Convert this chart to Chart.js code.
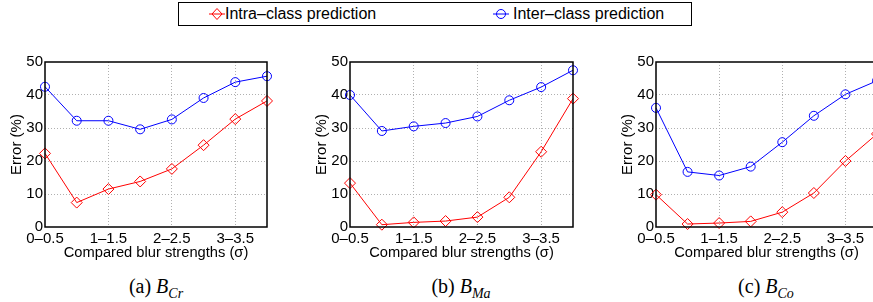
<!DOCTYPE html>
<html>
<head>
<meta charset="utf-8">
<script src="https://cdn.jsdelivr.net/npm/chart.js@4.4.1/dist/chart.umd.min.js"></script>
<style>
  html, body { margin: 0; padding: 0; background: #fff; overflow: hidden; }
  body { width: 873px; height: 302px; position: relative; font-family: "Liberation Sans", Arial, sans-serif; }
  .plot { position: absolute; top: 45px; }
  .legend {
    position: absolute; left: 178px; top: 2px; width: 512px; height: 22px;
    border: 1px solid #000; font-size: 16px; color: #000;
  }
  .legend .item { position: absolute; top: 0; height: 22px; line-height: 22px; }
  .legend svg { position: absolute; top: 4px; }
  .caption {
    position: absolute; top: 275px; width: 160px; text-align: center;
    font-family: "Liberation Serif", "DejaVu Serif", serif; font-size: 20px; color: #000;
  }
  .caption sub { font-size: 14px; font-style: italic; vertical-align: -5px; line-height: 0; }
</style>
</head>
<body>

<div class="legend">
  <svg width="20" height="14" style="left:28px"><line x1="2" y1="7" x2="18" y2="7" stroke="#ff0000" stroke-width="1"/><polygon points="10,1.5 15,7 10,12.5 5,7" fill="none" stroke="#ff0000" stroke-width="1"/></svg>
  <span class="item" style="left:46px">Intra–class prediction</span>
  <svg width="20" height="14" style="left:312px"><line x1="2" y1="7" x2="18" y2="7" stroke="#0000ff" stroke-width="1"/><circle cx="10" cy="7" r="4.5" fill="none" stroke="#0000ff" stroke-width="1"/></svg>
  <span class="item" style="left:334px">Inter–class prediction</span>
</div>

<canvas id="chartCr" class="plot"></canvas>
<canvas id="chartMa" class="plot"></canvas>
<canvas id="chartCo" class="plot"></canvas>

<div class="caption" style="left:76px">(a) <i>B</i><sub>Cr</sub></div>
<div class="caption" style="left:381px">(b) <i>B</i><sub>Ma</sub></div>
<div class="caption" style="left:686px">(c) <i>B</i><sub>Co</sub></div>

<script>
const categories = ["0–0.5", "0.5–1", "1–1.5", "1.5–2", "2–2.5", "2.5–3", "3–3.5", "3.5–4"];
const yTicks = [0, 10, 20, 30, 40, 50];

const intraCr = [22.3, 7.4, 11.5, 13.8, 17.6, 24.8, 32.7, 38.2];
const interCr = [42.5, 32.2, 32.2, 29.6, 32.6, 39.1, 43.9, 45.7];

const intraMa = [13.3, 0.7, 1.4, 1.8, 3.0, 9.0, 22.8, 38.9];
const interMa = [40.0, 29.1, 30.5, 31.5, 33.5, 38.4, 42.4, 47.5];

const intraCo = [9.8, 0.9, 1.2, 1.7, 4.5, 10.3, 20.0, 28.2];
const interCo = [36.1, 16.7, 15.6, 18.3, 25.7, 33.7, 40.2, 44.3];

const RED = "#ff0000";
const BLUE = "#0000ff";
const FONT = "'Liberation Sans', Arial, sans-serif";

// black frame round the plot area
const boxPlugin = {
  id: "box",
  afterDatasetsDraw(chart) {
    const a = chart.chartArea;
    const ctx = chart.ctx;
    ctx.save();
    ctx.strokeStyle = "#000";
    ctx.lineWidth = 1.5;
    ctx.strokeRect(a.left, a.top, a.right - a.left, a.bottom - a.top);
    ctx.restore();
  },
};

function makeChart(id, left, plotWidth, intra, inter) {
  const canvas = document.getElementById(id);
  const yAxisW = 37;
  canvas.width = yAxisW + plotWidth + 15;
  canvas.height = 217;
  canvas.style.left = left - yAxisW + "px";

  return new Chart(canvas.getContext("2d"), {
    type: "line",
    data: {
      labels: categories,
      datasets: [
        {
          label: "Intra–class prediction",
          data: intra,
          borderColor: RED,
          backgroundColor: "rgba(0,0,0,0)",
          borderWidth: 1,
          pointStyle: "rectRot",
          pointRadius: 5.5,
          pointBorderWidth: 1,
          pointBorderColor: RED,
          pointBackgroundColor: "rgba(0,0,0,0)",
          tension: 0,
          clip: false,
        },
        {
          label: "Inter–class prediction",
          data: inter,
          borderColor: BLUE,
          backgroundColor: "rgba(0,0,0,0)",
          borderWidth: 1,
          pointStyle: "circle",
          pointRadius: 4.5,
          pointBorderWidth: 1,
          pointBorderColor: BLUE,
          pointBackgroundColor: "rgba(0,0,0,0)",
          tension: 0,
          clip: false,
        },
      ],
    },
    options: {
      responsive: false,
      animation: false,
      devicePixelRatio: 1,
      layout: { padding: { top: 17, right: 15, left: 0, bottom: 0 } },
      plugins: { legend: { display: false }, tooltip: { enabled: false } },
      scales: {
        x: {
          type: "category",
          offset: false,
          afterFit(scale) { scale.height = 35; },
          grid: {
            drawTicks: false,
            color: (c) => (c.index > 0 && c.index % 2 === 0 ? "#b0b0b0" : "rgba(0,0,0,0)"),
          },
          border: { display: false, dash: [1, 2] },
          ticks: {
            autoSkip: false,
            maxRotation: 0,
            padding: 3,
            color: "#000",
            font: { family: FONT, size: 15 },
            callback: (v, i) => (i % 2 === 0 ? categories[i] : ""),
          },
          title: {
            display: true,
            text: "Compared blur strengths (σ)",
            color: "#000",
            padding: 0,
            font: { family: FONT, size: 14.7 },
          },
        },
        y: {
          min: yTicks[0],
          max: yTicks[yTicks.length - 1],
          afterFit(scale) { scale.width = yAxisW; },
          afterBuildTicks(scale) { scale.ticks = yTicks.map((v) => ({ value: v })); },
          grid: {
            drawTicks: false,
            color: (c) => (c.tick && c.tick.value > 0 && c.tick.value < 50 ? "#b0b0b0" : "rgba(0,0,0,0)"),
          },
          border: { display: false, dash: [1, 2] },
          ticks: {
            padding: 2,
            color: "#000",
            font: { family: FONT, size: 15 },
          },
          title: {
            display: true,
            text: "Error (%)",
            color: "#000",
            padding: 0,
            font: { family: FONT, size: 15 },
          },
        },
      },
    },
    plugins: [boxPlugin],
  });
}

makeChart("chartCr", 45, 222, intraCr, interCr);
makeChart("chartMa", 350, 223, intraMa, interMa);
makeChart("chartCo", 656, 221, intraCo, interCo);
</script>
</body>
</html>
